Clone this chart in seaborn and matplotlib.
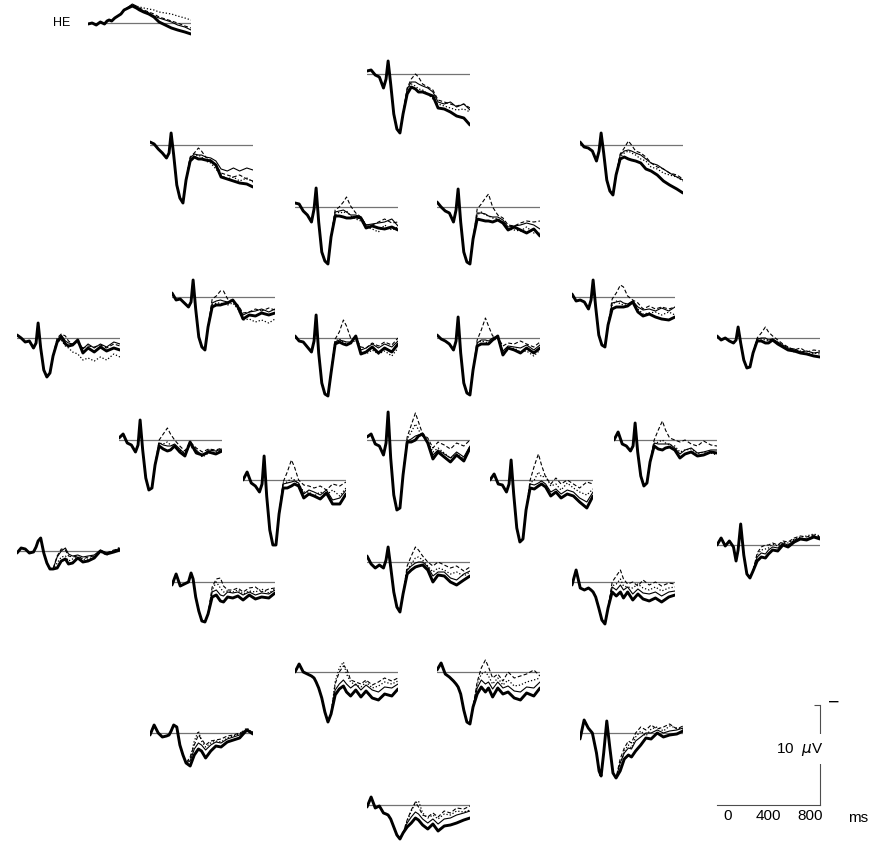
import numpy as np
import pandas as pd
import matplotlib
matplotlib.use("Agg")
import matplotlib.pyplot as plt
import seaborn as sns


# sample times (ms); all four conditions overlap before ~290 ms
T_EARLY = [-100, -60, -20, 20, 60, 85, 105, 130, 160, 190, 220, 250]
T_LATE = [290, 330, 370, 400, 440, 490, 540, 590, 650, 710, 770, 840, 900]

# amplitudes in microvolts (positive plotted downwards)
HE = dict(early=[0.1, 0.0, 0.2, -0.1, 0.1, -0.2, -0.3, -0.2, -0.5, -0.7, -0.9, -1.3],
          thick=[-1.5, -1.7, -1.5, -1.3, -1.1, -0.9, -0.6, -0.1, 0.2, 0.5, 0.7, 0.9, 1.1],
          thin=[-1.6, -1.9, -1.7, -1.4, -1.2, -1.0, -0.7, -0.5, -0.3, -0.1, 0.2, 0.4, 0.7],
          dashed=[-1.5, -1.8, -1.6, -1.5, -1.3, -1.1, -0.9, -0.6, -0.4, -0.2, 0.0, 0.3, 0.5],
          dotted=[-1.5, -1.7, -1.7, -1.6, -1.5, -1.4, -1.3, -1.1, -1.0, -0.9, -0.7, -0.5, -0.3])
FPZ = dict(early=[-0.3, -0.4, 0.1, 0.3, 1.4, 0.5, -1.3, 1.0, 4.0, 5.5, 5.9, 4.0],
           thick=[2.0, 1.3, 1.5, 1.8, 1.8, 2.0, 2.2, 3.4, 3.5, 3.8, 4.2, 4.4, 5.1],
           thin=[1.5, 0.8, 0.8, 1.0, 1.2, 1.4, 1.8, 2.8, 3.0, 2.8, 3.3, 3.0, 3.6],
           dashed=[1.4, 0.5, 0.0, 0.3, 1.0, 1.3, 1.6, 2.6, 2.8, 3.0, 3.2, 3.0, 3.4],
           dotted=[1.7, 1.0, 1.2, 1.5, 1.6, 2.0, 2.5, 3.0, 3.2, 3.4, 3.6, 3.5, 3.8])
F7 = dict(early=[-0.3, -0.1, 0.4, 0.8, 1.3, 0.8, -1.2, 1.0, 4.0, 5.3, 5.8, 3.5],
          thick=[1.6, 1.2, 1.4, 1.4, 1.5, 1.6, 2.0, 3.2, 3.4, 3.6, 3.8, 3.9, 4.2],
          thin=[1.3, 0.9, 1.0, 1.0, 1.2, 1.3, 1.6, 2.4, 2.6, 2.3, 2.6, 2.3, 2.5],
          dashed=[1.2, 0.8, 0.3, 0.6, 1.2, 1.5, 2.0, 2.8, 3.0, 3.2, 3.0, 3.4, 3.6],
          dotted=[1.4, 1.1, 1.0, 1.2, 1.6, 1.8, 2.4, 3.0, 3.4, 3.2, 3.6, 3.3, 3.7])
F8 = dict(early=[-0.3, 0.2, 0.3, 0.6, 1.6, 0.6, -1.2, 0.8, 3.5, 4.6, 5.0, 3.0],
          thick=[1.4, 1.2, 1.4, 1.5, 1.6, 1.8, 2.4, 2.6, 3.0, 3.6, 4.0, 4.4, 4.8],
          thin=[1.0, 0.6, 0.5, 0.6, 0.8, 1.0, 1.4, 1.8, 2.0, 2.4, 2.8, 3.2, 3.5],
          dashed=[0.9, 0.3, -0.4, 0.0, 0.6, 0.8, 1.2, 1.8, 2.2, 2.4, 2.8, 3.0, 3.4],
          dotted=[1.2, 0.8, 0.6, 0.8, 1.0, 1.4, 1.6, 2.2, 2.4, 2.8, 3.0, 3.2, 3.6])
F3 = dict(early=[-0.4, -0.3, 0.4, 0.8, 1.5, 0.2, -1.9, 1.5, 4.5, 5.4, 5.7, 3.0],
          thick=[0.9, 0.9, 1.0, 1.1, 1.1, 1.0, 1.1, 2.1, 1.9, 2.1, 2.2, 2.0, 2.3],
          thin=[0.5, 0.4, 0.3, 0.5, 0.8, 0.8, 1.0, 1.8, 1.7, 1.6, 1.5, 1.2, 1.9],
          dashed=[0.3, 0.0, -0.5, -1.0, -0.1, 0.6, 1.0, 1.8, 1.8, 1.5, 1.2, 1.6, 1.5],
          dotted=[0.8, 0.5, 0.6, 0.4, 0.9, 1.2, 1.4, 2.0, 2.2, 2.5, 1.8, 2.3, 2.0])
F4 = dict(early=[-0.5, 0.0, 0.4, 0.6, 1.5, 0.3, -1.8, 1.5, 4.5, 5.5, 5.7, 3.2],
          thick=[1.2, 1.3, 1.4, 1.4, 1.5, 1.3, 1.6, 2.3, 2.0, 2.3, 2.6, 2.2, 2.9],
          thin=[0.6, 0.6, 0.7, 0.9, 1.0, 1.0, 1.3, 2.0, 1.9, 1.8, 1.6, 1.8, 2.2],
          dashed=[0.2, -0.3, -0.9, -1.3, 0.0, 0.8, 1.1, 1.8, 1.9, 1.6, 1.4, 1.5, 1.4],
          dotted=[0.8, 0.5, 0.8, 0.9, 1.1, 1.2, 1.5, 2.2, 2.3, 2.4, 2.0, 2.6, 2.6])
FT7 = dict(early=[-0.4, 0.3, 0.2, 0.6, 1.0, 0.5, -1.7, 1.2, 4.0, 5.0, 5.3, 3.0],
           thick=[1.0, 0.8, 0.8, 0.7, 0.6, 0.3, 1.0, 2.2, 1.8, 1.9, 1.6, 1.8, 1.6],
           thin=[0.6, 0.4, 0.3, 0.4, 0.5, 0.4, 0.9, 1.8, 1.5, 1.4, 1.2, 1.5, 1.2],
           dashed=[0.2, -0.1, -0.6, -0.6, 0.2, 0.4, 0.8, 1.6, 1.5, 1.2, 1.4, 1.1, 1.3],
           dotted=[0.8, 0.6, 0.6, 0.7, 0.8, 0.6, 1.2, 2.3, 2.2, 2.5, 2.3, 2.6, 2.2])
FT8 = dict(early=[-0.3, 0.4, 0.3, 0.5, 1.2, 0.3, -1.7, 1.0, 3.8, 4.8, 5.0, 2.8],
           thick=[1.2, 1.0, 1.0, 1.0, 0.9, 0.5, 1.5, 1.9, 1.7, 2.0, 2.2, 2.3, 2.0],
           thin=[0.6, 0.5, 0.4, 0.6, 0.7, 0.4, 1.0, 1.3, 1.2, 1.4, 1.1, 1.4, 1.0],
           dashed=[0.2, -0.4, -1.2, -1.0, -0.1, 0.3, 0.6, 1.2, 0.9, 1.2, 1.0, 1.2, 1.0],
           dotted=[0.8, 0.4, 0.7, 0.8, 0.8, 0.6, 1.2, 1.7, 1.6, 1.5, 1.8, 1.5, 1.8])
T3 = dict(early=[-0.3, 0.0, 0.4, 0.3, 1.0, 0.5, -1.5, 1.0, 3.2, 3.9, 3.5, 1.8],
          thick=[0.4, -0.1, 0.6, 0.8, 0.7, 0.2, 1.5, 1.0, 1.4, 0.9, 1.3, 1.0, 1.2],
          thin=[0.2, -0.3, 0.3, 0.5, 0.6, 0.3, 1.1, 0.6, 1.0, 0.6, 0.9, 0.4, 0.6],
          dashed=[0.0, -0.4, -0.2, 0.3, 0.6, 0.5, 1.0, 0.8, 0.9, 0.7, 1.0, 0.6, 0.8],
          dotted=[0.3, 0.2, 0.8, 1.0, 1.4, 1.6, 2.2, 2.0, 2.3, 1.9, 2.2, 1.6, 1.9])
FC3 = dict(early=[-0.2, 0.3, 0.4, 0.9, 1.4, 0.3, -2.3, 1.5, 4.5, 5.6, 5.8, 3.5],
           thick=[0.6, 0.4, 0.6, 0.7, 0.5, -0.2, 1.6, 1.4, 0.9, 1.5, 1.0, 1.4, 0.6],
           thin=[0.4, 0.2, 0.3, 0.4, 0.4, -0.1, 1.2, 1.0, 0.6, 1.0, 0.6, 0.9, 0.3],
           dashed=[0.1, -0.6, -1.8, -1.2, 0.0, 0.0, 0.9, 1.0, 0.5, 0.8, 0.4, 0.7, 0.0],
           dotted=[0.3, 0.1, 0.4, 0.6, 0.6, 0.2, 1.4, 1.6, 1.2, 1.6, 1.3, 1.8, 1.0])
FC4 = dict(early=[-0.3, 0.1, 0.3, 0.6, 1.2, 0.3, -2.1, 1.5, 4.5, 5.5, 5.7, 3.2],
           thick=[0.8, 0.6, 0.6, 0.6, 0.2, -0.2, 1.7, 1.0, 1.2, 1.5, 1.0, 1.5, 1.0],
           thin=[0.5, 0.2, 0.2, 0.3, 0.0, -0.2, 1.3, 0.8, 0.9, 1.0, 0.7, 1.2, 0.7],
           dashed=[0.2, -0.8, -2.0, -1.2, -0.2, -0.1, 0.8, 0.5, 0.6, 0.3, 0.6, 0.9, 0.4],
           dotted=[0.5, 0.3, 0.4, 0.5, 0.2, 0.1, 1.5, 1.2, 1.0, 1.4, 1.3, 1.8, 1.2])
T4 = dict(early=[-0.2, 0.2, 0.0, 0.3, 0.5, 0.2, -1.1, 0.5, 2.2, 3.0, 2.9, 1.5],
          thick=[0.3, 0.3, 0.5, 0.5, 0.2, 0.6, 0.9, 1.2, 1.3, 1.5, 1.6, 1.8, 1.9],
          thin=[0.1, 0.0, 0.0, 0.2, 0.1, 0.4, 0.7, 1.0, 1.1, 1.4, 1.3, 1.5, 1.4],
          dashed=[0.0, -0.5, -1.1, -0.6, -0.2, 0.2, 0.6, 0.9, 1.2, 1.0, 1.4, 1.2, 1.3],
          dotted=[0.2, 0.1, 0.2, 0.3, 0.3, 0.5, 0.8, 1.1, 1.4, 1.3, 1.6, 1.5, 1.6])
C5 = dict(early=[-0.2, -0.6, 0.3, 0.5, 1.2, 0.5, -2.0, 1.0, 3.8, 5.0, 4.8, 2.5],
          thick=[0.6, 0.9, 1.1, 1.0, 0.6, 1.2, 1.6, 0.2, 1.3, 1.5, 1.2, 1.4, 1.1],
          thin=[0.3, 0.5, 0.6, 0.6, 0.4, 0.9, 1.4, 0.3, 1.0, 1.6, 1.0, 1.1, 0.9],
          dashed=[0.0, -0.6, -1.2, -0.6, 0.0, 0.6, 1.1, 0.2, 0.8, 1.2, 0.9, 1.0, 0.8],
          dotted=[0.3, 0.4, 0.2, 0.5, 0.7, 1.0, 1.3, 0.6, 1.2, 1.7, 1.3, 1.2, 1.0])
CZ = dict(early=[-0.3, -0.6, 0.4, 0.6, 1.5, 0.3, -2.8, 1.8, 5.5, 7.0, 6.8, 3.5],
          thick=[0.2, 0.2, 0.0, -0.4, -0.6, 0.3, 1.9, 1.2, 1.7, 2.2, 1.5, 2.1, 0.8],
          thin=[0.1, -0.1, -0.4, -0.5, -0.5, 0.2, 1.5, 1.0, 1.4, 1.8, 1.2, 1.7, 0.6],
          dashed=[-0.3, -1.5, -2.7, -1.8, -0.6, -0.2, 0.8, 0.2, 0.5, 0.9, 0.3, 0.6, 0.0],
          dotted=[-0.1, -0.8, -1.6, -1.0, -0.4, 0.1, 1.2, 0.8, 1.3, 1.8, 1.4, 1.9, 0.9])
C6 = dict(early=[0.0, -0.8, 0.4, 0.6, 1.1, 0.6, -1.7, 1.2, 3.6, 4.6, 4.3, 2.2],
          thick=[0.6, 0.9, 1.0, 0.8, 0.7, 1.0, 1.8, 1.4, 1.2, 1.6, 1.5, 1.2, 1.3],
          thin=[0.3, 0.4, 0.4, 0.4, 0.4, 0.8, 1.4, 1.0, 0.8, 1.3, 1.2, 1.0, 1.0],
          dashed=[0.0, -1.0, -1.9, -1.0, -0.2, 0.0, 0.2, 0.0, 0.4, 0.6, 0.1, 0.5, 0.6],
          dotted=[0.4, 0.2, 0.0, 0.3, 0.5, 0.6, 1.2, 1.0, 0.9, 1.4, 1.2, 1.3, 1.5])
C3 = dict(early=[0.0, -0.8, 0.3, 0.6, 1.2, 0.4, -2.4, 1.6, 5.0, 6.5, 6.5, 3.4],
          thick=[0.8, 0.8, 0.6, 0.4, 0.6, 1.8, 1.4, 1.6, 1.9, 1.3, 2.4, 2.4, 1.4],
          thin=[0.4, 0.3, 0.2, 0.1, 0.3, 1.4, 1.0, 1.2, 1.5, 1.0, 2.0, 1.8, 1.0],
          dashed=[0.2, -0.8, -2.0, -1.3, 0.0, 0.5, 0.6, 0.8, 0.6, 1.0, 0.4, 0.6, 0.2],
          dotted=[0.3, 0.2, -0.2, 0.0, 0.4, 1.2, 1.2, 1.6, 1.2, 1.5, 1.0, 1.6, 0.8])
C4 = dict(early=[0.0, -0.6, 0.4, 0.5, 1.2, 0.4, -2.0, 1.4, 4.8, 6.2, 5.9, 3.0],
          thick=[0.8, 0.9, 0.6, 0.4, 0.7, 1.6, 1.2, 1.8, 1.4, 1.6, 2.2, 2.8, 1.6],
          thin=[0.4, 0.5, 0.3, 0.1, 0.4, 1.2, 0.9, 1.4, 1.0, 1.2, 1.8, 2.2, 1.2],
          dashed=[0.0, -1.4, -2.6, -1.5, -0.3, 0.4, -0.2, 0.4, 0.0, 0.4, 0.8, 0.2, 0.4],
          dotted=[0.3, 0.0, -0.8, -0.3, -0.4, 0.6, 0.4, 1.0, 0.3, 0.8, 1.2, 1.5, 0.9])
TP7 = dict(early=[0.2, -0.3, -0.2, 0.2, 0.1, -0.4, -1.0, -1.3, 0.2, 1.2, 1.8, 1.8],
           thick=[1.7, 1.0, 0.8, 1.3, 1.2, 0.7, 1.1, 1.0, 0.7, 0.0, 0.3, 0.1, -0.1],
           thin=[0.6, 0.0, -0.3, 0.3, 0.5, 0.4, 0.6, 0.5, 0.4, -0.1, 0.2, 0.0, -0.3],
           dashed=[0.5, -0.2, -0.1, 0.5, 0.6, 0.5, 0.8, 0.6, 0.5, 0.0, 0.2, -0.1, -0.2],
           dotted=[1.2, 0.6, 0.5, 1.0, 0.8, 0.6, 0.9, 0.8, 0.6, 0.1, 0.4, 0.0, -0.4])
CPZ = dict(early=[-0.6, 0.2, 0.6, 0.3, 0.6, -0.2, -1.5, 0.5, 3.0, 4.5, 5.0, 3.2],
           thick=[1.2, 0.8, 0.5, 0.4, 0.3, 0.8, 2.0, 1.3, 1.4, 2.0, 2.3, 1.8, 1.4],
           thin=[0.8, 0.4, 0.1, 0.0, 0.0, 0.5, 1.4, 1.0, 1.0, 1.6, 1.8, 1.2, 0.9],
           dashed=[0.4, -0.6, -1.5, -1.2, -0.6, 0.0, 0.4, 0.0, 0.3, 0.6, 0.4, 0.9, 0.5],
           dotted=[0.8, 0.2, -0.4, -0.5, -0.2, 0.4, 1.0, 0.6, 0.8, 1.2, 1.0, 1.4, 1.0])
TP8 = dict(early=[0.0, -0.7, 0.1, -0.4, 0.2, 1.6, 0.5, -2.1, 1.0, 2.9, 3.3, 2.6],
           thick=[1.6, 1.2, 1.3, 0.9, 0.5, 0.6, 0.0, 0.2, -0.3, -0.6, -0.5, -0.8, -0.6],
           thin=[1.2, 0.8, 0.9, 0.5, 0.2, 0.3, -0.2, 0.0, -0.5, -0.7, -0.6, -0.9, -0.7],
           dashed=[0.8, 0.2, 0.0, 0.0, -0.2, 0.0, -0.4, -0.3, -0.7, -0.9, -0.8, -1.0, -0.8],
           dotted=[1.0, 0.5, 0.4, 0.3, -0.1, 0.1, -0.3, -0.2, -0.6, -0.8, -0.9, -1.1, -0.9])
P3 = dict(early=[0.3, -0.8, 0.4, 0.2, 0.0, -0.9, -0.3, 1.5, 2.9, 3.9, 4.0, 3.2],
          thick=[1.5, 1.3, 1.9, 2.0, 1.5, 1.6, 1.4, 1.8, 1.3, 1.7, 1.5, 1.6, 1.1],
          thin=[1.0, 0.8, 1.3, 1.4, 1.0, 1.1, 1.0, 1.3, 1.0, 1.3, 1.1, 1.2, 0.8],
          dashed=[0.5, -0.3, -0.4, 0.4, 0.8, 0.8, 0.6, 1.0, 0.6, 0.5, 1.0, 0.7, 0.6],
          dotted=[0.8, 0.0, 0.6, 1.0, 0.9, 1.0, 0.8, 1.2, 0.9, 1.0, 0.7, 1.1, 0.7])
P4 = dict(early=[0.3, -1.2, 0.6, 0.8, 0.6, 0.8, 1.0, 1.5, 2.6, 3.8, 4.2, 2.6],
          thick=[1.0, 1.4, 1.0, 1.6, 1.0, 1.8, 1.2, 1.7, 1.9, 1.6, 2.0, 1.5, 1.3],
          thin=[0.5, 0.8, 0.3, 0.8, 0.5, 1.2, 0.7, 1.1, 1.2, 1.0, 1.4, 1.0, 0.9],
          dashed=[0.0, -0.6, -1.2, -0.3, 0.2, 0.0, 0.4, -0.2, 0.3, 0.0, 0.4, 0.1, 0.2],
          dotted=[0.4, 0.2, -0.3, 0.4, 0.5, 0.6, 0.2, 0.6, 0.8, 0.5, 0.9, 0.6, 0.5])
PO3 = dict(early=[0.0, -0.8, 0.0, 0.2, 0.4, 0.6, 1.0, 1.6, 2.6, 4.0, 5.0, 4.2],
           thick=[2.3, 1.7, 1.4, 2.0, 2.4, 1.8, 2.5, 1.9, 2.6, 2.8, 2.2, 2.4, 1.7],
           thin=[1.8, 1.2, 0.8, 1.2, 1.6, 1.2, 1.8, 1.3, 1.8, 2.0, 1.5, 1.6, 1.2],
           dashed=[1.2, 0.0, -0.6, -0.4, 0.8, 1.0, 1.2, 0.8, 1.3, 1.0, 0.6, 0.9, 0.6],
           dotted=[1.0, -0.4, -1.0, 0.2, 1.0, 1.3, 1.5, 1.0, 1.6, 1.4, 1.0, 1.2, 0.9])
PO4 = dict(early=[-0.2, -0.9, 0.2, 0.5, 0.9, 1.2, 1.5, 2.2, 3.8, 5.0, 5.2, 3.5],
           thick=[2.2, 1.5, 2.0, 1.6, 2.5, 1.6, 2.2, 2.0, 2.6, 2.8, 2.1, 2.4, 1.6],
           thin=[1.6, 0.8, 1.2, 1.0, 1.7, 1.0, 1.6, 1.4, 1.9, 2.0, 1.5, 1.6, 1.0],
           dashed=[1.0, -0.4, -1.2, -0.5, 0.6, 0.2, 0.9, 0.0, 0.6, 0.4, 0.2, -0.2, 0.4],
           dotted=[1.2, 0.2, 0.0, 0.4, 1.2, 0.6, 1.3, 0.8, 1.4, 1.3, 1.0, 0.8, 0.6])
T5 = dict(early=[0.2, -0.8, 0.0, 0.4, 0.3, 0.2, -0.2, -0.8, -0.6, 1.2, 2.2, 3.0],
          thick=[3.3, 2.2, 1.6, 1.8, 2.5, 1.8, 1.3, 1.4, 0.9, 0.7, 0.5, -0.3, 0.1],
          thin=[2.8, 1.6, 1.0, 1.2, 1.7, 1.2, 0.9, 1.0, 0.6, 0.4, 0.2, -0.4, 0.0],
          dashed=[2.4, 1.2, 0.2, 0.6, 1.2, 0.8, 0.7, 0.6, 0.3, 0.2, 0.0, -0.3, -0.1],
          dotted=[2.6, 0.8, -0.2, 0.8, 1.4, 1.0, 0.8, 0.9, 0.5, 0.3, 0.1, -0.5, 0.0])
T6 = dict(early=[0.6, -1.3, -0.5, 0.0, 2.0, 3.8, 4.3, 2.0, -1.2, 1.5, 4.0, 4.5],
          thick=[3.8, 2.6, 2.2, 2.4, 1.8, 1.2, 0.5, 0.6, 0.0, 0.4, 0.2, 0.1, -0.2],
          thin=[3.0, 2.0, 1.5, 1.6, 0.8, 0.4, 0.0, 0.0, -0.3, 0.0, -0.2, -0.3, -0.5],
          dashed=[2.6, 1.5, 0.8, 1.0, 0.0, -0.6, -0.3, -0.8, -0.4, -0.6, -0.9, -0.4, -0.7],
          dotted=[3.2, 1.8, 1.2, 1.5, 0.4, -0.2, 0.3, -0.4, -0.6, -0.2, -0.7, -0.5, -0.4])
OZ = dict(early=[0.2, -0.8, 0.3, 0.1, 0.8, 0.9, 1.0, 1.4, 2.2, 3.0, 3.4, 2.8],
          thick=[2.2, 1.8, 1.3, 1.5, 2.0, 2.4, 1.9, 2.6, 2.1, 2.0, 1.8, 1.5, 1.3],
          thin=[1.8, 1.2, 0.7, 0.9, 1.4, 1.8, 1.4, 1.9, 1.4, 1.3, 1.0, 0.8, 0.6],
          dashed=[1.5, 0.5, -0.3, 0.2, 1.0, 1.2, 0.8, 1.2, 0.6, 0.8, 0.3, 0.4, 0.1],
          dotted=[1.6, 0.6, -0.2, -0.4, 0.8, 1.3, 1.0, 1.4, 0.9, 1.0, 0.6, 0.7, 0.5])

ELECTRODES = {"HE": HE, "FPZ": FPZ, "F7": F7, "F8": F8, "F3": F3, "F4": F4,
              "FT7": FT7, "FT8": FT8, "T3": T3, "FC3": FC3, "FC4": FC4, "T4": T4,
              "C5": C5, "CZ": CZ, "C6": C6, "C3": C3, "C4": C4, "TP7": TP7,
              "CPZ": CPZ, "TP8": TP8, "P3": P3, "P4": P4, "PO3": PO3, "PO4": PO4,
              "T5": T5, "T6": T6, "OZ": OZ}

# where each trace sits: left edge and baseline row, in pixels of the 883x843 figure
LAYOUT = {"HE": (88, 23), "FPZ": (367, 74), "F7": (150, 145), "F8": (580, 145),
          "F3": (295, 207), "F4": (437, 207), "FT7": (172, 297), "FT8": (572, 297),
          "T3": (17, 338), "FC3": (295, 338), "FC4": (437, 338), "T4": (717, 338),
          "C5": (119, 440), "CZ": (367, 440), "C6": (614, 440),
          "C3": (243, 480), "C4": (490, 480), "TP7": (17, 551), "CPZ": (367, 562),
          "TP8": (717, 545), "P3": (172, 582), "P4": (572, 582),
          "PO3": (295, 672), "PO4": (437, 672), "T5": (150, 733), "T6": (580, 733),
          "OZ": (367, 805)}

STYLES = {"dotted": dict(linewidth=0.9, linestyle=(0, (1, 1.6))),
          "dashed": dict(linewidth=0.8, linestyle=(0, (3.5, 2))),
          "thin": dict(linewidth=0.8, linestyle="-"),
          "thick": dict(linewidth=2.1, linestyle="-")}

FIG_W, FIG_H = 883, 843
TRACE_W = 103          # px for -100..900 ms
PX_PER_UV = 10
UV_TOP, UV_BOTTOM = -4, 9


def trace_axes(fig, x, y, top=UV_TOP, bottom=UV_BOTTOM):
    h = (bottom - top) * PX_PER_UV
    row_top = y + top * PX_PER_UV
    ax = fig.add_axes([x / FIG_W, 1 - (row_top + h) / FIG_H, TRACE_W / FIG_W, h / FIG_H])
    return ax


def main():
    sns.set_style("white")
    plt.rcParams["font.family"] = ["Liberation Sans", "DejaVu Sans"]
    plt.rcParams["text.color"] = "black"
    plt.rcParams["xtick.color"] = "black"
    fig = plt.figure(figsize=(FIG_W / 100, FIG_H / 100), dpi=100)

    times = T_EARLY + T_LATE
    for name, data in ELECTRODES.items():
        x, y = LAYOUT[name]
        ax = trace_axes(fig, x, y)
        ax.axhline(0, color="0.45", linewidth=0.9, zorder=1)
        for cond in ["dotted", "dashed", "thin", "thick"]:
            df = pd.DataFrame({"time": times, "uv": data["early"] + data[cond]})
            sns.lineplot(data=df, x="time", y="uv", ax=ax, color="black",
                         sort=False, errorbar=None, zorder=2, **STYLES[cond])
        ax.set_xlim(-100, 900)
        ax.set_ylim(UV_BOTTOM, UV_TOP)   # negative up
        ax.axis("off")

    fig.text(62 / FIG_W, 1 - 23 / FIG_H, "HE", ha="center", va="center", fontsize=9)

    # calibration: 10 uV and 0/400/800 ms
    sb = trace_axes(fig, 717, 805, top=-11.5, bottom=2)
    sb.set_xlim(-100, 900)
    sb.set_ylim(2, -11.5)
    sb.patch.set_alpha(0)
    for s in ["top", "left"]:
        sb.spines[s].set_visible(False)
    sb.spines["bottom"].set_position(("data", 0))
    sb.spines["right"].set_bounds(-10, 0)
    for s in ["bottom", "right"]:
        sb.spines[s].set_color("0.3")
        sb.spines[s].set_linewidth(0.8)
    sb.set_xticks([0, 400, 800])
    sb.set_xticklabels(["0", "400", "800"])
    sb.tick_params(axis="x", direction="in", length=5, width=0.8, color="0.3",
                   labelsize=11, labelcolor="black", pad=3)
    sb.yaxis.tick_right()
    sb.set_yticks([-10])
    sb.tick_params(axis="y", direction="in", length=4, width=0.8, color="0.3",
                   labelright=False, labelleft=False)
    sb.set_xlabel("")
    sb.set_ylabel("")

    fig.text(800 / FIG_W, 1 - 749 / FIG_H, "10  $\\mu$V", ha="center", va="center",
             fontsize=11, bbox=dict(facecolor="white", edgecolor="none", pad=5))
    fig.text(834 / FIG_W, 1 - 703 / FIG_H, "\u2212", ha="center", va="center", fontsize=14)
    fig.text(858 / FIG_W, 1 - 818 / FIG_H, "ms", ha="center", va="center", fontsize=11)

    fig.savefig("out.png", dpi=100, facecolor="white")


if __name__ == "__main__":
    main()
